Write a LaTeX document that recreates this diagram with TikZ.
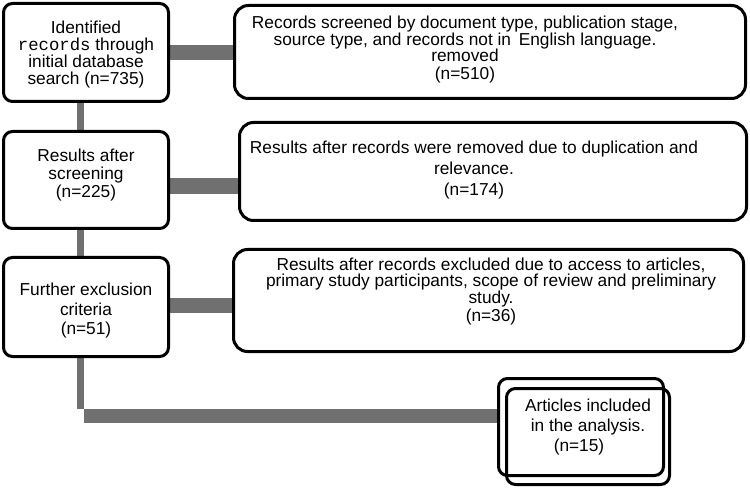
\documentclass[tikz,border=0pt]{standalone}
\usepackage{fontspec}
\setmainfont{Liberation Sans}
\newfontfamily\recmono{Liberation Mono}
\definecolor{barcol}{RGB}{112,112,112}
\pgfdeclarelayer{background}
\pgfsetlayers{background,main}
\begin{document}
\begin{tikzpicture}[x=1pt,y=-1pt,
  lbox/.style={draw, line width=3pt, rounded corners=9pt, fill=white, inner sep=0pt},
  rbox/.style={draw, line width=3pt, rounded corners=14pt, fill=white, inner sep=0pt},
  fbox/.style={draw, line width=3pt, rounded corners=9pt, inner sep=0pt},
  txt/.style={align=center, inner sep=0pt},
  hbar/.style={draw=barcol, line width=15pt},
  vbar/.style={draw=barcol, line width=7pt}]
\useasboundingbox (0,0) rectangle (750,489);
% boxes
\node[lbox, minimum width=165pt, minimum height=98pt] (l1) at (86,52.5) {};
\node[lbox, minimum width=165pt, minimum height=97pt] (l2) at (86,180) {};
\node[lbox, minimum width=165pt, minimum height=99pt] (l3) at (86,307) {};
\node[rbox, minimum width=511pt, minimum height=93pt] (r1) at (490,52) {};
\node[rbox, minimum width=507pt, minimum height=98pt] (r2) at (493,171.5) {};
\node[rbox, minimum width=510pt, minimum height=102pt] (r3) at (488.5,300.5) {};
\node[fbox, minimum width=165pt, minimum height=97pt] (fa) at (581,427) {};
\node[fbox, minimum width=163pt, minimum height=96pt] (fb) at (588,436.5) {};
% texts
\node[txt, font=\fontsize{17.3}{17.3}\selectfont] (lt1) at (86,54.5)
  {Identified\\{\recmono records} through\\initial database\\search (n=735)};
\node[txt, font=\fontsize{17.3}{18}\selectfont] (lt2) at (86,175.5)
  {Results after\\screening\\(n=225)};
\node[txt, font=\fontsize{17.3}{19.5}\selectfont] (lt3) at (86,311)
  {Further exclusion\\criteria\\(n=51)};
\node[txt, font=\fontsize{17.3}{16.5}\selectfont] (rt1) at (465,50)
  {Records screened by document type, publication stage,\\source type, and records not in\ \,English language.\\removed\\[1.5pt](n=510)};
\node[txt, font=\fontsize{17.3}{21}\selectfont] (rt2) at (474,170.5)
  {Results after records were removed due to duplication and\\relevance.\\(n=174)};
\node[txt, font=\fontsize{17.3}{16}\selectfont] (rt3) at (491,291.5)
  {Results after records excluded due to access to articles,\\primary study participants, scope of review and preliminary\\study.\\(n=36)};
\node[txt, font=\fontsize{17.3}{20}\selectfont] (ft) at (588,427.5)
  {Articles included\\in the analysis.\\(n=15)\hspace*{18pt}};
% connectors
\coordinate (vx) at (80.5,0);
\coordinate (h1) at (0,52.5);
\coordinate (h2) at (0,186);
\coordinate (h3) at (0,305.5);
\coordinate (c4) at (80.5,409);
\coordinate (c5) at (84,416);
\begin{pgfonlayer}{background}
\draw[vbar] (l1.south -| vx) -- (l2.north -| vx);
\draw[vbar] (l2.south -| vx) -- (l3.north -| vx);
\draw[vbar] (l3.south -| vx) -- (c4);
\draw[hbar] (l1.east |- h1) -- (r1.west |- h1);
\draw[hbar, line width=16pt] (l2.east |- h2) -- (r2.west |- h2);
\draw[hbar] (l3.east |- h3) -- (r3.west |- h3);
\draw[hbar, line width=14pt] (c5) -- (fa.west |- c5);
\end{pgfonlayer}
\end{tikzpicture}
\end{document}
